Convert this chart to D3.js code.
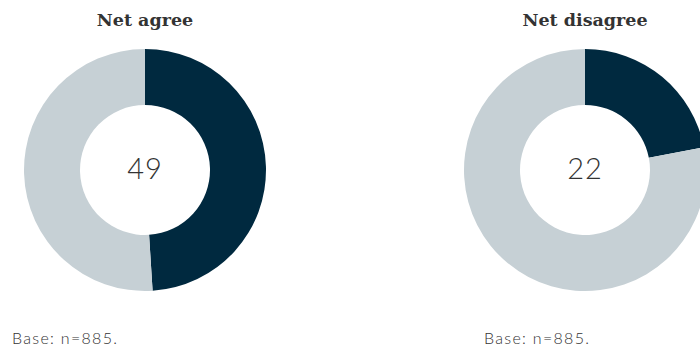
<!DOCTYPE html>
<html>
<head>
<meta charset="utf-8">
<script src="https://cdn.jsdelivr.net/npm/d3@7"></script>
<style>
  html, body { margin: 0; padding: 0; background: #fff; }
  svg { display: block; }
</style>
</head>
<body>
<svg id="chart" width="700" height="350"></svg>
<script>
// Share of respondents for each donut
const titles = ["Net agree", "Net disagree"];
const values = [49, 22];
const bases = ["Base: n=885.", "Base: n=885."];

const colors = { value: "#00293f", rest: "#c6d0d5" };
const svg = d3.select("#chart");

const centersX = d3.scalePoint().domain(titles).range([145, 585]);
const baseX = d3.scalePoint().domain(titles).range([12, 484]);
const outerR = 121, innerR = 65, cy = 170;

const pie = d3.pie().sort(null).value(d => d.v);
const arc = d3.arc().innerRadius(innerR).outerRadius(outerR);

titles.forEach((t, i) => {
  const cx = centersX(t);
  const g = svg.append("g").attr("transform", `translate(${cx},${cy})`);
  const slices = pie([{ k: "value", v: values[i] }, { k: "rest", v: 100 - values[i] }]);
  g.selectAll("path").data(slices).join("path")
    .attr("d", arc)
    .attr("fill", d => colors[d.data.k]);

  g.append("text")
    .attr("text-anchor", "middle")
    .attr("x", 0)
    .attr("y", 9)
    .attr("font-family", "Lato, 'Open Sans', sans-serif")
    .attr("font-weight", 300)
    .attr("font-size", 29)
    .attr("letter-spacing", 1)
    .attr("fill", "#333")
    .text(values[i]);

  svg.append("text")
    .attr("x", cx)
    .attr("y", 26)
    .attr("text-anchor", "middle")
    .attr("font-family", "'DejaVu Serif', serif")
    .attr("font-weight", "bold")
    .attr("font-size", 17.5)
    .attr("fill", "#333")
    .text(t);

  svg.append("text")
    .attr("x", baseX(t))
    .attr("y", 344)
    .attr("font-family", "Lato, sans-serif")
    .attr("font-weight", 300)
    .attr("font-size", 16)
    .attr("letter-spacing", 1.3)
    .attr("fill", "#333")
    .text(bases[i]);
});
</script>
</body>
</html>
